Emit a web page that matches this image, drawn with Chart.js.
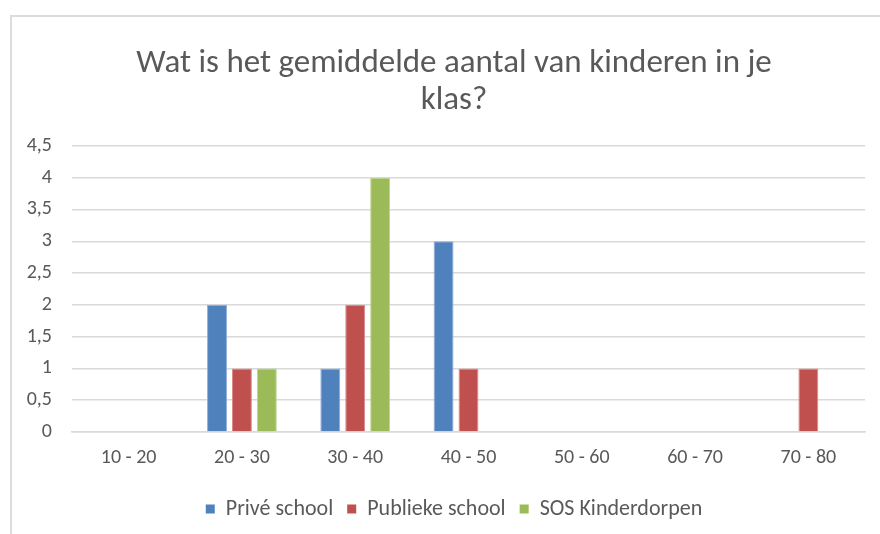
<!DOCTYPE html>
<html>
<head>
<meta charset="utf-8">
<script src="https://cdn.jsdelivr.net/npm/chart.js@4/dist/chart.umd.min.js"></script>
<style>
    body { margin: 0; background: #fff; }
    #wrap { position: relative; width: 880px; height: 534px; overflow: hidden; }
    #frame {
        position: absolute; left: 10px; top: 15px; width: 900px; height: 560px;
        border-left: 2px solid #dcdcdc; border-top: 2px solid #dcdcdc;
    }
    #myChart { position: absolute; left: 0; top: 0; }
</style>
</head>
<body>
<div id="wrap">
    <div id="frame"></div>
    <canvas id="myChart" width="880" height="534"></canvas>
</div>
<script>
const categories = ['10 - 20', '20 - 30', '30 - 40', '40 - 50', '50 - 60', '60 - 70', '70 - 80'];
const priveSchool = [0, 2, 1, 3, 0, 0, 0];
const publiekeSchool = [0, 1, 2, 1, 0, 0, 1];
const sosKinderdorpen = [0, 1, 4, 0, 0, 0, 0];
const yTicks = [0, 0.5, 1, 1.5, 2, 2.5, 3, 3.5, 4, 4.5];

const textColor = '#595959';
const gridColor = '#d9d9d9';
const fontFamily = "Carlito, Lato, 'Open Sans', sans-serif";

// no border on empty bars, otherwise a thin line shows on the axis
const edge = (ctx) => ctx.raw ? 1 : 0;

// y labels sit left of the padded area, widen the axis clip box so they are not cut
const unclipY = {
    id: 'unclipY',
    afterLayout: (chart) => { chart.scales.y.left = 0; }
};

const data = {
    labels: categories,
    datasets: [{
        label: 'Privé school',
        data: priveSchool,
        backgroundColor: '#4F81BD',
        borderColor: '#8eaedb',
        borderWidth: edge,
        borderSkipped: 'bottom'
    }, {
        label: 'Publieke school',
        data: publiekeSchool,
        backgroundColor: '#C0504D',
        borderColor: '#d98a88',
        borderWidth: edge,
        borderSkipped: 'bottom'
    }, {
        label: 'SOS Kinderdorpen',
        data: sosKinderdorpen,
        backgroundColor: '#9BBB59',
        borderColor: '#bdd494',
        borderWidth: edge,
        borderSkipped: 'bottom'
    }]
};

const config = {
    type: 'bar',
    data,
    plugins: [unclipY],
    options: {
        responsive: false,
        animation: false,
        devicePixelRatio: 1,
        datasets: {
            bar: {
                categoryPercentage: 0.66,
                barPercentage: 0.8
            }
        },
        layout: {
            padding: { top: 45, right: 15, left: 43, bottom: 4 }
        },
        scales: {
            x: {
                grid: { display: false, drawTicks: false },
                border: { color: gridColor, width: 1.5 },
                ticks: {
                    color: textColor,
                    font: { family: fontFamily, size: 20 },
                    padding: 14
                }
            },
            y: {
                min: 0,
                max: 4.5,
                afterFit: (axis) => { axis.width = 29; },
                afterBuildTicks: (axis) => {
                    axis.ticks = yTicks.map(v => ({ value: v }));
                },
                grid: {
                    color: gridColor,
                    lineWidth: 1.5,
                    drawTicks: false
                },
                border: { display: false },
                ticks: {
                    color: textColor,
                    font: { family: fontFamily, size: 20 },
                    padding: 20,
                    callback: (v) => String(v).replace('.', ',')
                }
            }
        },
        plugins: {
            title: {
                display: true,
                text: ['Wat is het gemiddelde aantal van kinderen in je', 'klas?'],
                color: textColor,
                font: { family: fontFamily, size: 33, weight: '300', lineHeight: 1.12 },
                padding: { top: 0, bottom: 27 }
            },
            legend: {
                display: true,
                position: 'bottom',
                labels: {
                    color: textColor,
                    font: { family: fontFamily, size: 22 },
                    boxWidth: 9,
                    boxHeight: 9,
                    padding: 14
                }
            },
            tooltip: { enabled: false }
        }
    }
};

new Chart(document.getElementById('myChart'), config);
</script>
</body>
</html>
